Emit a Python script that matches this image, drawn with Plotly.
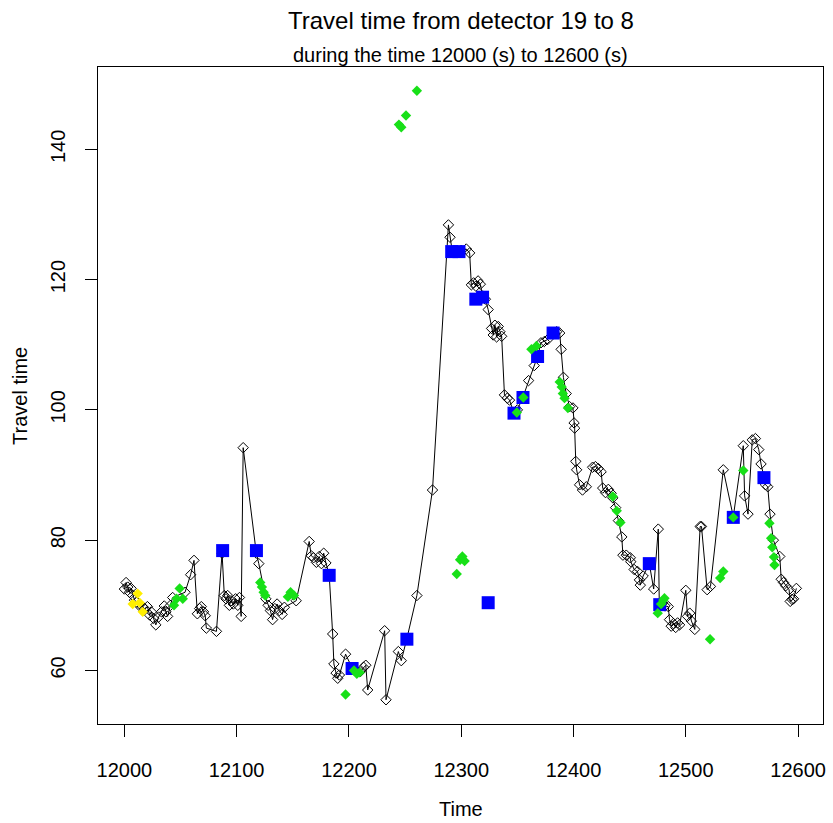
import plotly.graph_objects as go

# Black series (time, travel time) joined by a line
line_t = [12000.0, 12001.5, 12003.0, 12004.5, 12006.0, 12007.5, 12009.0, 12011.0, 12013.0, 12016.0,
          12018.0, 12020.5, 12022.5, 12024.0, 12026.0, 12028.0, 12030.5, 12033.0, 12035.5, 12037.0,
          12038.5, 12041.0, 12043.0, 12054.0, 12059.0, 12062.0, 12065.0, 12067.0, 12068.5, 12070.5,
          12072.0, 12073.0, 12082.0, 12087.0, 12089.0, 12090.5, 12092.0, 12093.5, 12095.0, 12097.0,
          12099.0, 12101.0, 12102.5, 12104.0, 12105.8, 12117.5, 12119.7, 12126.0, 12128.0, 12130.0,
          12132.0, 12134.0, 12136.0, 12138.0, 12140.5, 12142.5, 12153.0, 12164.6, 12166.5, 12168.5,
          12171.0, 12173.5, 12175.5, 12177.5, 12179.5, 12182.4, 12185.5, 12186.6, 12188.5, 12190.0,
          12191.5, 12197.0, 12202.8, 12206.0, 12210.0, 12213.0, 12215.0, 12216.7, 12231.8, 12233.0,
          12244.0, 12246.6, 12251.6, 12260.5, 12274.4, 12288.6, 12290.0, 12292.0, 12296.0, 12300.0,
          12304.5, 12307.5, 12309.0, 12311.0, 12313.0, 12315.0, 12317.0, 12319.0, 12321.5, 12324.0,
          12327.0, 12328.5, 12330.0, 12331.5, 12333.0, 12334.5, 12336.0, 12338.5, 12341.0, 12343.0,
          12347.0, 12350.0, 12355.0, 12360.0, 12365.0, 12368.0, 12371.0, 12374.0, 12377.0, 12381.8,
          12385.0, 12387.7, 12389.0, 12391.0, 12393.5, 12396.5, 12399.5, 12400.5, 12401.0, 12402.0,
          12402.8, 12405.4, 12408.0, 12411.4, 12417.0, 12419.5, 12422.0, 12424.6, 12426.0, 12428.5,
          12431.0, 12433.5, 12435.0, 12437.5, 12440.0, 12443.0, 12444.0, 12447.0, 12450.6, 12451.0,
          12454.0, 12457.0, 12458.7, 12459.5, 12462.0, 12467.5, 12471.4, 12475.5, 12476.4, 12479.0,
          12481.5, 12484.4, 12485.5, 12487.0, 12489.0, 12491.0, 12492.7, 12494.5, 12500.0, 12501.5,
          12503.5, 12505.0, 12508.0, 12512.8, 12514.0, 12519.0, 12522.0, 12533.4, 12542.3, 12551.2,
          12552.4, 12555.4, 12559.2, 12562.0, 12565.0, 12567.0, 12569.6, 12571.0, 12573.0, 12575.0,
          12578.0, 12583.7, 12585.0, 12587.0, 12589.0, 12592.0, 12593.0, 12594.6, 12596.0, 12598.5]
line_v = [72.5, 73.5, 72.8, 72.0, 72.6, 71.5, 70.8, 70.5, 70.0, 69.8,
          69.5, 69.8, 68.5, 69.0, 68.0, 67.0, 68.2, 69.0, 69.9, 69.0,
          68.3, 70.0, 71.2, 72.0, 74.7, 76.9, 68.7, 69.5, 69.8, 69.0,
          68.4, 66.5, 66.0, 78.0, 71.5, 71.0, 71.5, 70.0, 70.7, 70.2,
          71.0, 70.0, 71.2, 68.3, 94.2, 78.0, 76.4, 71.0, 70.0, 69.2,
          67.8, 69.5, 70.2, 69.2, 68.6, 69.7, 70.7, 79.8, 77.6, 77.3,
          76.6, 77.5, 76.4, 78.0, 76.5, 74.7, 65.6, 61.0, 59.6, 58.8,
          59.3, 62.5, 60.4, 60.0, 59.8, 60.5, 60.8, 57.0, 66.1, 55.5,
          62.9, 61.5, 64.9, 71.5, 87.7, 128.4, 126.5, 124.3, 124.3, 124.5,
          124.7, 124.1, 119.2, 119.5, 119.0, 119.8, 119.3, 117.5, 117.0, 115.4,
          112.5, 111.5, 113.0, 111.2, 112.8, 112.0, 111.3, 102.3, 101.8, 101.5,
          99.5, 100.0, 102.0, 104.5, 106.8, 108.2, 110.3, 110.5, 110.8, 111.9,
          112.0, 111.8, 109.3, 105.0, 102.5, 100.5, 100.3, 98.0, 97.2, 92.1,
          90.8, 88.5, 87.7, 88.2, 91.2, 91.3, 91.0, 90.5, 88.0, 87.3,
          87.8, 87.2, 86.5, 85.0, 83.0, 80.5, 77.7, 77.7, 77.3, 76.7,
          75.5, 75.2, 73.9, 73.1, 74.5, 76.4, 72.5, 81.7, 70.2, 70.3,
          69.9, 69.8, 67.8, 66.8, 67.2, 66.6, 67.3, 67.0, 72.3, 68.3,
          68.8, 67.6, 66.3, 82.1, 82.1, 72.4, 72.9, 90.8, 83.6, 94.5,
          86.8, 84.0, 95.4, 95.6, 93.9, 91.7, 89.7, 88.5, 88.2, 84.0,
          80.0, 77.5, 74.0, 73.5, 73.0, 72.4, 70.6, 70.9, 71.0, 72.6]

# Blue squares
blue_t = [12087.5, 12117.6, 12182.4, 12202.8, 12251.6, 12291.5, 12298.0, 12313.0, 12319.0,
          12324.0, 12347.0, 12355.0, 12368.0, 12381.8, 12467.5, 12476.8, 12542.3, 12569.6]
blue_v = [78.4, 78.4, 74.6, 60.3, 64.8, 124.3, 124.3, 117.0, 117.3,
          70.4, 99.5, 101.9, 108.2, 111.8, 76.4, 70.1, 83.5, 89.6]

# Green diamonds
green_t = [12044.2, 12046.5, 12049.2, 12052.0, 12121.0, 12122.5, 12124.0, 12125.5, 12145.6, 12148.0,
           12151.0, 12197.0, 12204.5, 12207.0, 12209.5, 12244.5, 12246.6, 12250.8, 12260.5, 12296.0,
           12299.0, 12301.0, 12303.0, 12349.5, 12355.3, 12362.5, 12367.0, 12387.7, 12389.5, 12390.5,
           12392.0, 12395.0, 12435.0, 12438.5, 12441.8, 12475.0, 12478.0, 12480.0, 12481.0, 12521.6,
           12530.6, 12533.4, 12542.3, 12551.2, 12574.5, 12576.0, 12577.0, 12578.5, 12579.0]
green_v = [70.0, 71.0, 72.6, 71.0, 73.5, 72.8, 72.0, 71.5, 71.3, 72.0,
           71.5, 56.3, 60.0, 59.5, 59.7, 143.8, 143.4, 145.2, 149.0, 74.8,
           77.0, 77.5, 76.8, 99.6, 101.9, 109.3, 109.8, 104.3, 103.5, 102.5,
           101.8, 100.3, 86.7, 84.5, 82.7, 68.8, 70.2, 70.8, 71.1, 64.8,
           74.2, 75.2, 83.5, 90.7, 82.6, 80.3, 78.9, 77.4, 76.2]

# Yellow diamonds
yellow_t = [12007.4, 12011.8, 12013.6, 12016.3]
yellow_v = [70.2, 71.8, 70.4, 69.0]

x_ticks = [12000, 12100, 12200, 12300, 12400, 12500, 12600]
y_ticks = [60, 80, 100, 120, 140]

FONT = "Liberation Sans, Arial, sans-serif"

fig = go.Figure()
fig.add_trace(go.Scatter(x=line_t, y=line_v, mode="lines+markers",
                         line=dict(color="black", width=1),
                         marker=dict(symbol="diamond-open", size=8, color="black",
                                     line=dict(color="black", width=1)),
                         showlegend=False))
fig.add_trace(go.Scatter(x=blue_t, y=blue_v, mode="markers",
                         marker=dict(symbol="square", size=13, color="#0000FF"),
                         showlegend=False))
fig.add_trace(go.Scatter(x=green_t, y=green_v, mode="markers",
                         marker=dict(symbol="diamond", size=8, color="#18E018"),
                         showlegend=False))
fig.add_trace(go.Scatter(x=yellow_t, y=yellow_v, mode="markers",
                         marker=dict(symbol="diamond", size=8, color="#FFEE00"),
                         showlegend=False))

axis_common = dict(showgrid=False, zeroline=False, showline=True, mirror=True,
                   linecolor="black", linewidth=1, ticks="outside", ticklen=12,
                   tickcolor="black", tickwidth=1,
                   tickfont=dict(family=FONT, size=20, color="black"))

fig.update_xaxes(range=[11976.5, 12622.2], tickvals=x_ticks,
                 ticktext=[str(v) for v in x_ticks], ticklabelstandoff=16, **axis_common)
fig.update_yaxes(range=[51.78, 152.64], tickvals=y_ticks,
                 ticktext=[str(v) for v in y_ticks], tickangle=-90, ticklabelstandoff=12,
                 **axis_common)

fig.update_layout(
    width=833, height=823,
    margin=dict(l=98, r=7, t=67, b=99),
    paper_bgcolor="white", plot_bgcolor="white",
    font=dict(family=FONT, color="black"),
    annotations=[
        dict(text="Travel time from detector 19 to 8", xref="paper", yref="paper",
             x=0.5, y=(724 - 21) / 657, xanchor="center", yanchor="middle",
             showarrow=False, font=dict(family=FONT, size=24, color="black")),
        dict(text="during the time 12000 (s) to 12600 (s)", xref="paper", yref="paper",
             x=0.5, y=(724 - 55) / 657, xanchor="center", yanchor="middle",
             showarrow=False, font=dict(family=FONT, size=20, color="black")),
        dict(text="Time", xref="paper", yref="paper",
             x=0.5, y=(724 - 809) / 657, xanchor="center", yanchor="middle",
             showarrow=False, font=dict(family=FONT, size=20, color="black")),
        dict(text="Travel time", xref="paper", yref="paper",
             x=(19.5 - 98.3) / 727.7, y=0.5, xanchor="center", yanchor="middle",
             textangle=-90, showarrow=False, font=dict(family=FONT, size=20, color="black")),
    ],
)

fig.write_html("out.html")
